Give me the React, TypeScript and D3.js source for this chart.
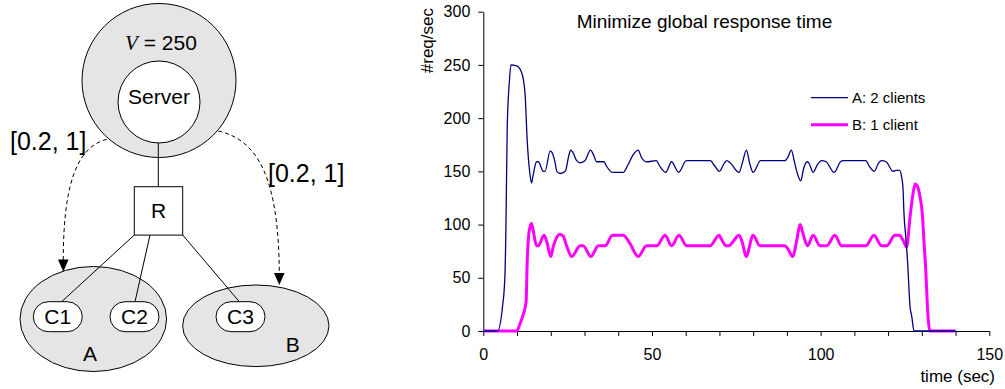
import React, { useEffect, useRef } from 'react';
import * as d3 from 'd3';

// Series A: 2 clients (navy)
const timeA = [0, 4.2, 5.7, 6.4, 6.7, 7.1, 7.7, 8.2, 9.9, 10.7, 11.9, 12.4, 13.0, 13.8, 14.3, 14.8, 15.8, 16.3, 17.8, 18.3, 19.8, 20.3, 21.3, 21.8, 22.8, 24.3, 25.3, 25.9, 26.5, 27.7, 28.6, 30.1, 31.8, 32.6, 33.6, 35.8, 36.5, 38.3, 41.5, 42.7, 44.5, 45.9, 46.9, 48.4, 51.3, 52.3, 54.1, 55.8, 57.9, 60.2, 67.3, 68.6, 70.0, 71.5, 72.2, 73.2, 75.8, 76.8, 78.0, 79.0, 80.0, 82.2, 89.4, 90.4, 91.3, 92.3, 93.2, 94.1, 94.9, 96.0, 96.5, 97.8, 99.0, 100.3, 101.6, 104.0, 105.9, 106.6, 113.4, 114.4, 115.9, 117.2, 118.1, 119.4, 121.5, 122.3, 123.4, 124.0, 124.4, 124.7, 125.3, 125.8, 126.5, 127.0, 127.7, 140];
const reqA = [0, 0, 23, 51, 95, 192, 233, 250, 249, 247, 236, 222, 180, 148, 139, 147, 159, 159, 150, 150, 169, 168, 158, 150, 148, 150, 164, 170, 168, 160, 158, 160, 170, 166, 159, 159, 155, 149, 149, 155, 166, 170, 163, 159, 160, 155, 149, 159, 149, 160, 160, 155, 150, 158, 160, 158, 149, 158, 170, 157, 149, 160, 160, 164, 170, 158, 147, 141, 152, 159, 158, 149, 156, 160, 159, 149, 159, 160, 160, 155, 150, 158, 160, 159, 150, 151, 151, 145, 135, 111, 86, 64, 23, 14, 0, 0];

// Series B: 1 client (magenta)
const timeB = [0, 9.9, 10.9, 11.9, 12.7, 13.0, 13.6, 14.3, 14.8, 15.8, 16.3, 18.0, 18.8, 20.0, 20.8, 22.7, 23.7, 24.7, 26.2, 28.7, 29.6, 31.9, 34.1, 36.1, 38.3, 41.5, 43.5, 45.9, 48.4, 51.4, 53.9, 55.8, 58.0, 60.3, 67.2, 69.9, 70.3, 72.0, 72.8, 73.8, 75.8, 76.8, 77.9, 80.0, 82.0, 89.4, 90.5, 91.7, 92.9, 93.9, 94.9, 96.1, 97.8, 99.8, 101.8, 104.2, 106.2, 113.4, 115.8, 118.1, 119.6, 122.0, 123.3, 124.5, 125.5, 126.5, 127.3, 128.0, 128.7, 129.4, 130.2, 130.6, 131.2, 131.6, 131.9, 132.4, 140];
const reqB = [0, 0, 7, 16, 28, 63, 94, 101, 94, 80, 80, 90, 84, 70, 80, 91, 89, 80, 70, 80, 80, 70, 80, 80, 90, 90, 82, 70, 80, 80, 90, 80, 90, 80, 80, 90, 88, 80, 80, 83, 90, 83, 70, 90, 80, 80, 76, 70, 85, 100, 90, 80, 90, 80, 80, 90, 80, 80, 90, 80, 80, 90, 90, 85, 79, 107, 127, 138, 136, 127, 108, 86, 55, 27, 11, 0, 0];

const yTicks = [0, 50, 100, 150, 200, 250, 300];
const xMajor = [0, 50, 100, 150];
const legendLabels = ['A: 2 clients', 'B: 1 client'];
const seriesColors = ['#000080', '#ff00ff'];

const FONT = "'Liberation Sans', Arial, sans-serif";

const App: React.FC = () => {
  const svgRef = useRef<SVGSVGElement>(null);

  useEffect(() => {
    if (!svgRef.current) return;
    const svg = d3.select(svgRef.current);
    svg.selectAll('*').remove();

    // ---------- left: network diagram ----------
    const dg = svg.append('g').attr('font-family', FONT).attr('fill', '#000');
    const gray = '#e5e5e5';

    dg.append('circle').attr('cx', 159).attr('cy', 80.5).attr('r', 77)
      .attr('fill', gray).attr('stroke', '#000');
    dg.append('circle').attr('cx', 159).attr('cy', 102).attr('r', 41)
      .attr('fill', '#fff').attr('stroke', '#000');

    const vt = dg.append('text').attr('x', 161).attr('y', 50)
      .attr('text-anchor', 'middle').attr('font-size', 21);
    vt.append('tspan').attr('font-family', "'Liberation Serif', serif")
      .attr('font-style', 'italic').text('V');
    vt.append('tspan').text(' = 250');

    dg.append('text').attr('x', 159).attr('y', 104).attr('text-anchor', 'middle')
      .attr('font-size', 21).text('Server');

    // server -> R
    dg.append('line').attr('x1', 158.3).attr('y1', 143).attr('x2', 158.3).attr('y2', 186.7)
      .attr('stroke', '#000');

    // group ellipses
    dg.append('ellipse').attr('cx', 93.3).attr('cy', 319).attr('rx', 73.3).attr('ry', 52.5)
      .attr('fill', gray).attr('stroke', '#000');
    dg.append('ellipse').attr('cx', 255.8).attr('cy', 325.8).attr('rx', 73.2).attr('ry', 40.8)
      .attr('fill', gray).attr('stroke', '#000');

    // R -> clients
    const links = [
      [134.3, 235, 61.7, 301.7],
      [150, 235, 135, 301.7],
      [182.7, 235, 239.3, 301.7],
    ];
    links.forEach(([x1, y1, x2, y2]) => {
      dg.append('line').attr('x1', x1).attr('y1', y1).attr('x2', x2).attr('y2', y2)
        .attr('stroke', '#000');
    });

    dg.append('rect').attr('x', 134.3).attr('y', 186.7).attr('width', 48.4).attr('height', 48.4)
      .attr('fill', '#fff').attr('stroke', '#000');
    dg.append('text').attr('x', 158.5).attr('y', 218.3).attr('text-anchor', 'middle')
      .attr('font-size', 21).text('R');

    const clients = [
      { label: 'C1', x: 33.3 },
      { label: 'C2', x: 110 },
      { label: 'C3', x: 216 },
    ];
    clients.forEach((c) => {
      dg.append('rect').attr('x', c.x).attr('y', 301.7).attr('width', 49).attr('height', 30)
        .attr('rx', 15).attr('fill', '#fff').attr('stroke', '#000');
      dg.append('text').attr('x', c.x + 24.5).attr('y', 323.5).attr('text-anchor', 'middle')
        .attr('font-size', 21).text(c.label);
    });

    dg.append('text').attr('x', 90).attr('y', 360.5).attr('text-anchor', 'middle')
      .attr('font-size', 21).text('A');
    dg.append('text').attr('x', 292.7).attr('y', 352.3).attr('text-anchor', 'middle')
      .attr('font-size', 21).text('B');

    // dashed share arrows
    dg.append('path').attr('d', 'M106.7,139.3 C82,146 63,172 63.3,262')
      .attr('fill', 'none').attr('stroke', '#000').attr('stroke-dasharray', '4,3');
    dg.append('path').attr('d', 'M58,259.5 L68.6,259.5 L63.3,271.7 Z').attr('fill', '#000');
    dg.append('path').attr('d', 'M218.3,131 C258,140 279,178 279.3,275')
      .attr('fill', 'none').attr('stroke', '#000').attr('stroke-dasharray', '4,3');
    dg.append('path').attr('d', 'M274,273 L284.6,273 L279.3,285 Z').attr('fill', '#000');

    dg.append('text').attr('x', 10).attr('y', 150).attr('font-size', 25).text('[0.2, 1]');
    dg.append('text').attr('x', 268).attr('y', 181.5).attr('font-size', 25).text('[0.2, 1]');

    // ---------- right: response-rate chart ----------
    const x = d3.scaleLinear().domain([0, 150]).range([483.3, 989.3]);
    const y = d3.scaleLinear().domain([0, 300]).range([331, 11.7]);

    const cg = svg.append('g').attr('font-family', FONT);

    const xAxis = cg.append('g').attr('transform', `translate(0,${y(0)})`)
      .call(d3.axisBottom(x).tickValues(d3.range(0, 151, 10)).tickSize(5).tickSizeOuter(0)
        .tickFormat((d) => (xMajor.includes(Number(d)) ? String(d) : '')));
    xAxis.selectAll('text').attr('font-size', 16).attr('font-family', FONT)
      .attr('fill', '#000').attr('y', 29).attr('dy', 0);
    xAxis.selectAll('line, path').attr('stroke', '#000');

    const yAxis = cg.append('g').attr('transform', `translate(${x(0)},0)`)
      .call(d3.axisLeft(y).tickValues(yTicks).tickSize(5).tickSizeOuter(0).tickPadding(8));
    yAxis.selectAll('text').attr('font-size', 16).attr('font-family', FONT).attr('fill', '#000');
    yAxis.selectAll('line, path').attr('stroke', '#000');

    const makeLine = (ts: number[], vs: number[]) =>
      d3.line<[number, number]>()
        .x((d) => x(d[0]))
        .y((d) => y(d[1]))
        .curve(d3.curveMonotoneX)(ts.map((t, i) => [t, vs[i]] as [number, number]));

    cg.append('path').attr('d', makeLine(timeB, reqB) || '')
      .attr('fill', 'none').attr('stroke', seriesColors[1]).attr('stroke-width', 3)
      .attr('stroke-linejoin', 'round');
    cg.append('path').attr('d', makeLine(timeA, reqA) || '')
      .attr('fill', 'none').attr('stroke', seriesColors[0]).attr('stroke-width', 1.3)
      .attr('stroke-linejoin', 'round');

    // title and axis titles
    cg.append('text').attr('x', 576.7).attr('y', 28.3).attr('font-size', 19)
      .text('Minimize global response time');
    cg.append('text').attr('x', 995).attr('y', 382).attr('text-anchor', 'end')
      .attr('font-size', 17).text('time (sec)');
    cg.append('text').attr('transform', 'translate(433,8) rotate(-90)')
      .attr('text-anchor', 'end').attr('font-size', 17).text('#req/sec');

    // legend
    legendLabels.forEach((label, i) => {
      const ly = 97.7 + i * 27;
      cg.append('line').attr('x1', 811).attr('x2', 848).attr('y1', ly).attr('y2', ly)
        .attr('stroke', seriesColors[i]).attr('stroke-width', i === 0 ? 1.3 : 3);
      cg.append('text').attr('x', 852).attr('y', ly + 5.5).attr('font-size', 15).text(label);
    });
  }, []);

  return (
    <svg
      ref={svgRef}
      width={1005}
      height={389}
      style={{ position: 'absolute', left: 0, top: 0, background: '#fff' }}
    />
  );
};

export default App;
